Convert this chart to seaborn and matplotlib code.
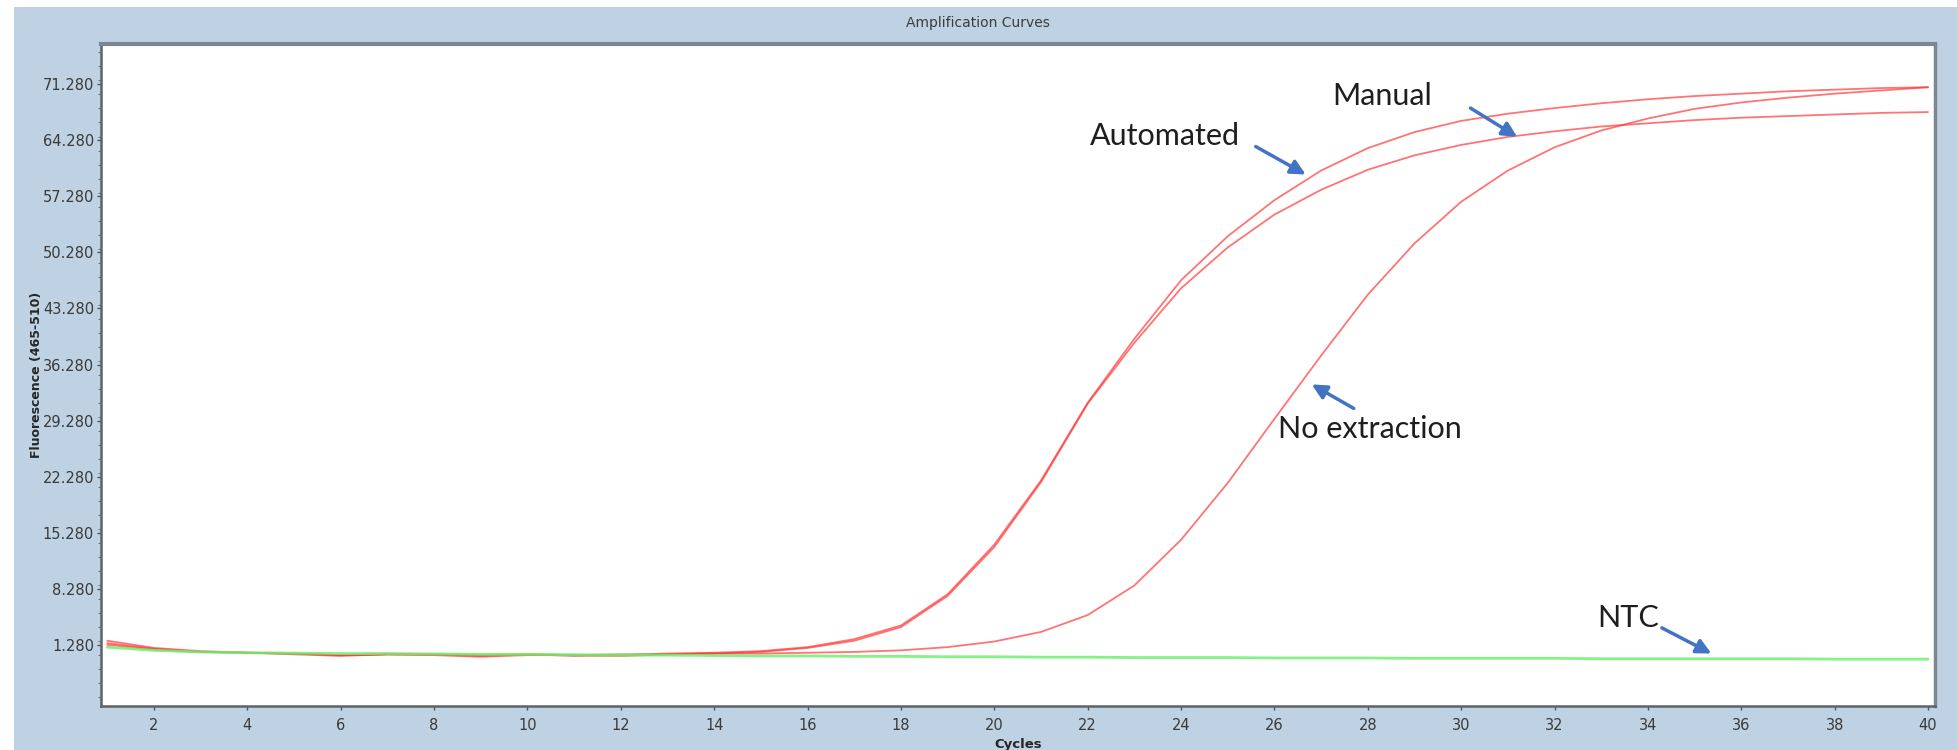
import matplotlib
matplotlib.use('Agg')
import numpy as np
import pandas as pd
import matplotlib.pyplot as plt
import seaborn as sns
from matplotlib.patches import Rectangle
from matplotlib.ticker import FixedLocator, FormatStrFormatter, MultipleLocator

# values (fluorescence per cycle)
cycles = list(range(1, 41))
automated = [1.8, 0.9, 0.5, 0.3, 0.2, 0.0, 0.1, 0.1, -0.1, 0.1,
             -0.1, 0.0, 0.2, 0.3, 0.5, 1.0, 2.0, 3.7, 7.6, 13.8,
             21.8, 31.5, 39.5, 46.8, 52.3, 56.8, 60.5, 63.3, 65.3, 66.7,
             67.6, 68.3, 68.9, 69.4, 69.8, 70.1, 70.4, 70.6, 70.8, 70.9]
manual = [1.5, 0.8, 0.4, 0.3, 0.1, -0.1, 0.1, 0.0, -0.2, 0.0,
          0.0, -0.1, 0.1, 0.2, 0.4, 0.9, 1.8, 3.5, 7.4, 13.5,
          21.6, 31.4, 39.0, 45.8, 50.9, 55.0, 58.1, 60.6, 62.4, 63.7,
          64.7, 65.4, 66.0, 66.4, 66.8, 67.1, 67.3, 67.5, 67.7, 67.8]
no_extraction = [1.3, 0.7, 0.4, 0.3, 0.2, 0.0, 0.1, 0.1, 0.0, 0.1,
                 0.0, 0.1, 0.1, 0.2, 0.2, 0.3, 0.4, 0.6, 1.0, 1.7,
                 2.9, 5.0, 8.7, 14.4, 21.5, 29.5, 37.4, 45.0, 51.4, 56.6,
                 60.5, 63.4, 65.5, 67.0, 68.2, 69.0, 69.6, 70.1, 70.5, 70.9]
ntc = [1.0, 0.6, 0.4, 0.3, 0.25, 0.2, 0.2, 0.15, 0.1, 0.1,
       0.05, 0.0, 0.0, -0.05, -0.1, -0.1, -0.15, -0.15, -0.2, -0.2,
       -0.25, -0.25, -0.3, -0.3, -0.3, -0.35, -0.35, -0.35, -0.4, -0.4,
       -0.4, -0.4, -0.45, -0.45, -0.45, -0.45, -0.45, -0.5, -0.5, -0.5]
y_ticks = [1.28 + 7 * k for k in range(11)]
x_ticks = list(range(2, 41, 2))

df = pd.DataFrame({
    'Cycles': cycles * 4,
    'Fluorescence': automated + manual + no_extraction + ntc,
    'Sample': ['Automated'] * 40 + ['Manual'] * 40
              + ['No extraction'] * 40 + ['NTC'] * 40,
})

sns.set_style('white')
plt.rcParams['font.family'] = ['Liberation Sans Narrow', 'DejaVu Sans']

fig = plt.figure(figsize=(19.57, 7.5), dpi=100)
fig.patch.set_facecolor('white')
# light blue panel behind the plot (the software window)
fig.patches.append(Rectangle((14 / 1957, 0), 1 - 14 / 1957, 743 / 750,
                             transform=fig.transFigure, facecolor='#bfd2e3',
                             edgecolor='none', zorder=-10))

ax = fig.add_axes([101 / 1957, 1 - 706 / 750, 1834 / 1957, 662 / 750])
ax.set_zorder(5)
ax.set_facecolor('white')

pal = {'Automated': '#ff3838', 'Manual': '#ff3838',
       'No extraction': '#ff3838', 'NTC': '#6ff06f'}
sns.lineplot(data=df, x='Cycles', y='Fluorescence', hue='Sample',
             palette=pal, linewidth=1.3, alpha=0.7, legend=False, ax=ax)
# NTC trace is a bit heavier in the original
ax.lines[-1].set_linewidth(2.0)
ax.lines[-1].set_alpha(0.85)

ax.set_xlim(0.865, 40.15)
ax.set_ylim(-6.35, 76.3)
ax.xaxis.set_major_locator(FixedLocator(x_ticks))
ax.yaxis.set_major_locator(FixedLocator(y_ticks))
ax.yaxis.set_major_formatter(FormatStrFormatter('%.3f'))
ax.yaxis.set_minor_locator(MultipleLocator(1.75))
ax.tick_params(axis='both', which='major', direction='out', length=3,
               width=1, color='#555555', labelsize=10.5, labelcolor='#3a3a3a',
               pad=2, left=True, bottom=True)
ax.tick_params(axis='y', which='minor', direction='out', length=2,
               width=0.8, color='#777777', left=True)
ax.tick_params(axis='x', pad=6)

for side in ['left', 'bottom']:
    ax.spines[side].set_color('#5c636b')
    ax.spines[side].set_linewidth(1.8)
ax.spines['top'].set_color('#7d8794')
ax.spines['top'].set_linewidth(3)
ax.spines['right'].set_color('#7d8794')
ax.spines['right'].set_linewidth(2.5)

ax.set_xlabel('Cycles', fontsize=9.5, fontweight='bold', labelpad=3)
ax.set_ylabel('Fluorescence (465-510)', fontsize=9, fontweight='bold',
              labelpad=0)

fig.text(978 / 1957, 1 - 23 / 750, 'Amplification Curves', ha='center',
         va='center', fontsize=10, color='#3c3c3c', family='DejaVu Sans')

arrow = dict(arrowstyle='-|>', color='#4472c4', lw=2.5, mutation_scale=22,
             shrinkA=0, shrinkB=0)
notes = [
    ('Automated', (23.65, 64.8), (25.6, 63.5), (26.67, 60.0)),
    ('Manual', (28.3, 69.8), (30.2, 68.3), (31.2, 64.7)),
    ('No extraction', (28.05, 28.2), (27.7, 30.8), (26.8, 33.8)),
    ('NTC', (33.57, 4.66), (34.3, 3.4), (35.36, 0.2)),
]
for label, txt_xy, tail, head in notes:
    ax.text(txt_xy[0], txt_xy[1], label, ha='center', va='center',
            fontsize=22, family='Lato', color='#1e1e1e')
    ax.annotate('', xy=head, xytext=tail, arrowprops=arrow)

fig.savefig('out.png', dpi=100)
